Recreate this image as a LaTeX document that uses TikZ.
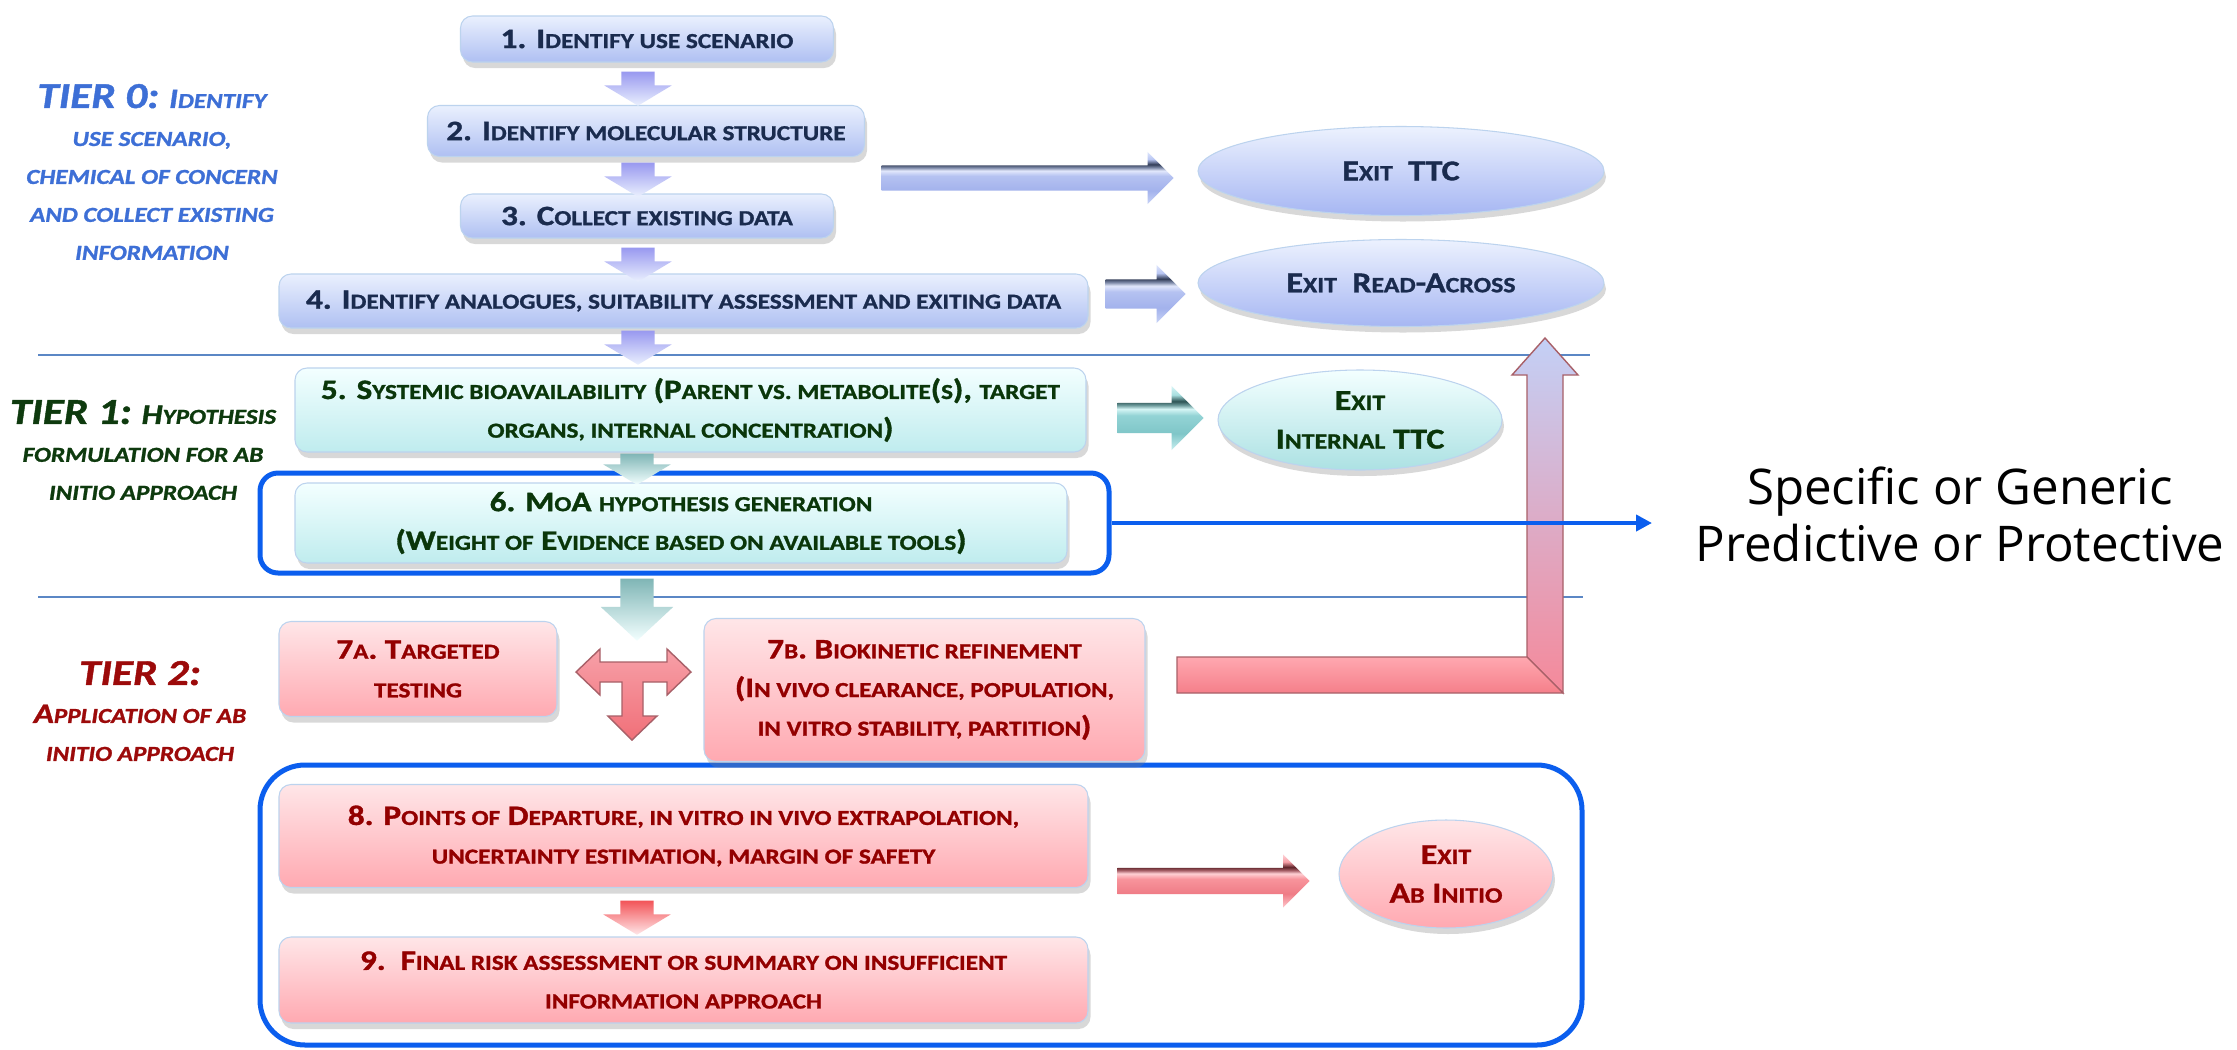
\documentclass[tikz,border=0pt]{standalone}
\usepackage{fontspec}
\setmainfont{Carlito}[FakeStretch=1.18, BoldFeatures={FakeBold=1.2}, BoldItalicFeatures={FakeBold=1.2}]
\newfontfamily\osans{Open Sans}
\usetikzlibrary{shapes.geometric,shapes.arrows,shadows,arrows.meta}
\makeatletter
\newcommand\lc[1]{{\fontsize{\fpeval{\f@size*0.76}}{\baselineskip}\selectfont\MakeUppercase{#1}}}
\makeatother
\definecolor{bluetop}{HTML}{EAF0FE}
\definecolor{bluebot}{HTML}{AFC0F2}
\definecolor{bluetext}{HTML}{1A2B4E}
\definecolor{tealtop}{HTML}{F3FFFF}
\definecolor{tealbot}{HTML}{BFECEE}
\definecolor{tealtext}{HTML}{0A360A}
\definecolor{pinktop}{HTML}{FFE6E8}
\definecolor{pinkbot}{HTML}{FFA9B1}
\definecolor{pinktext}{HTML}{930000}
\definecolor{boxedge}{HTML}{BCD3EE}
\definecolor{outblue}{HTML}{0B5EEE}
\definecolor{divcol}{HTML}{5B87C5}
\definecolor{tierA}{HTML}{3D6FD6}
\definecolor{tierB}{HTML}{0E3A0E}
\definecolor{tierC}{HTML}{9C0A0A}
% arrow shading colours
\definecolor{ab1}{HTML}{C9D4F7}\definecolor{ab2}{HTML}{A3B2EC}\definecolor{ab3}{HTML}{B5C2F1}\definecolor{ab4}{HTML}{E2E8FC}
\definecolor{ab5}{HTML}{7E8AA8}\definecolor{ab6}{HTML}{323D58}\definecolor{ab7}{HTML}{B9C6F3}\definecolor{ab8}{HTML}{E0E7FC}
\definecolor{at1}{HTML}{C9EFF0}\definecolor{at2}{HTML}{7FC6C8}\definecolor{at3}{HTML}{93D3D5}\definecolor{at4}{HTML}{D5F5F5}
\definecolor{at5}{HTML}{6C9A9B}\definecolor{at6}{HTML}{2C5253}\definecolor{at7}{HTML}{A8DFE0}\definecolor{at8}{HTML}{D8F5F6}
\definecolor{ap1}{HTML}{FFC9CE}\definecolor{ap2}{HTML}{EF7C86}\definecolor{ap3}{HTML}{F8949C}\definecolor{ap4}{HTML}{FFD0D4}
\definecolor{ap5}{HTML}{A86068}\definecolor{ap6}{HTML}{5E2429}\definecolor{ap7}{HTML}{F7A0A8}\definecolor{ap8}{HTML}{FFD5D9}
\definecolor{lTop}{HTML}{C3D0F6}\definecolor{lMid}{HTML}{A89CE0}\definecolor{lBot}{HTML}{F5899A}
\definecolor{hTop}{HTML}{FFA8B0}\definecolor{hBot}{HTML}{F57F8A}
\pgfdeclareverticalshading{arrblue}{100bp}{color(0bp)=(ab1); color(25bp)=(ab1); color(38bp)=(ab2); color(52bp)=(ab3); color(57bp)=(ab4); color(60bp)=(ab5); color(63bp)=(ab6); color(68bp)=(ab7); color(75bp)=(ab8); color(100bp)=(ab8)}
\pgfdeclareverticalshading{arrteal}{100bp}{color(0bp)=(at1); color(25bp)=(at1); color(38bp)=(at2); color(52bp)=(at3); color(57bp)=(at4); color(60bp)=(at5); color(63bp)=(at6); color(68bp)=(at7); color(75bp)=(at8); color(100bp)=(at8)}
\pgfdeclareverticalshading{arrpink}{100bp}{color(0bp)=(ap1); color(25bp)=(ap1); color(38bp)=(ap2); color(52bp)=(ap3); color(57bp)=(ap4); color(60bp)=(ap5); color(63bp)=(ap6); color(68bp)=(ap7); color(75bp)=(ap8); color(100bp)=(ap8)}
\tikzset{
  box/.style={rounded corners=1.2mm, draw=boxedge, line width=0.3pt, align=center,
    inner sep=0pt, font=\fontsize{8}{11}\selectfont\bfseries,
    drop shadow={shadow xshift=0.25mm, shadow yshift=-0.6mm, opacity=0.3}},
  bluebox/.style={box, top color=bluetop, bottom color=bluebot, text=bluetext},
  tealbox/.style={box, top color=tealtop, bottom color=tealbot, text=tealtext},
  pinkbox/.style={box, top color=pinktop, bottom color=pinkbot, text=pinktext},
  exitnode/.style={ellipse, draw=boxedge, line width=0.3pt, align=center, inner sep=0pt,
    font=\fontsize{8.2}{11}\selectfont\bfseries,
    drop shadow={shadow xshift=0.2mm, shadow yshift=-0.6mm, opacity=0.3}},
  blueexit/.style={exitnode, top color=bluetop!90!white, bottom color=bluebot!95!blue, text=bluetext},
  tealexit/.style={exitnode, top color=tealtop, bottom color=tealbot!90!teal, text=tealtext},
  pinkexit/.style={exitnode, top color=pinktop, bottom color=pinkbot, text=pinktext},
  outline/.style={draw=outblue, line width=0.5mm, inner sep=0pt},
  divider/.style={draw=divcol, line width=0.22mm},
  tier/.style={align=center, inner sep=0pt, font=\fontsize{8}{10.8}\selectfont\bfseries\itshape},
  barrow/.style={single arrow, draw=none, inner xsep=0pt, minimum width=0pt,
    single arrow head indent=0pt, anchor=tail},
  downarrow/.style={barrow, rotate=-90, minimum height=3.4mm, inner ysep=1.6mm,
    single arrow head extend=1.7mm, single arrow tip angle=118},
  bluedown/.style={downarrow, top color=black!15!blue!40!white, middle color=bluetop!80!bluebot, bottom color=bluetop},
  tealdown/.style={downarrow, top color=black!15!teal!50!white, middle color=tealtop!70!tealbot, bottom color=tealtop},
  pinkdown/.style={downarrow, top color=black!10!red!50!pinkbot, middle color=pinkbot!60!white, bottom color=pinktop},
  blueright/.style={barrow, shading=arrblue},
  tealright/.style={barrow, shading=arrteal},
  pinkright/.style={barrow, shading=arrpink},
}
\newcommand\tierbig[1]{{\fontsize{10.4}{11}\selectfont #1}}
\begin{document}
\begin{tikzpicture}[x=0.1mm,y=-0.1mm]
\useasboundingbox (0,0) rectangle (2237,1049);
\fill[white] (0,0) rectangle (2237,1049);

% dividers
\coordinate (d1a) at (38,355); \coordinate (d1b) at (1590,355);
\coordinate (d2a) at (38,597); \coordinate (d2b) at (1583,597);
\draw[divider] (d1a) -- (d1b);
\draw[divider] (d2a) -- (d2b);

% blue outlines
\node[outline, rounded corners=1.8mm, minimum width=84.9mm, minimum height=10mm] (r6) at (684.5,523) {};
\node[outline, rounded corners=4.5mm, minimum width=132.2mm, minimum height=28mm] (R) at (921,905) {};

% tier labels
\node[tier, text=tierA] (t0) at (152,172) {\tierbig{TIER 0:} I\lc{dentify}\\ \lc{use scenario,}\\ \lc{chemical of concern}\\ \lc{and collect existing}\\ \lc{information}};
\node[tier, text=tierB] (t1) at (143,450) {\tierbig{TIER 1:} H\lc{ypothesis}\\ \lc{formulation for ab}\\ \lc{initio approach}};
\node[tier, text=tierC] (t2) at (140,711) {\tierbig{TIER 2:}\\ A\lc{pplication of ab}\\ \lc{initio approach}};

% boxes
\node[bluebox, minimum width=37.3mm, minimum height=4.6mm] (b1) at (647,39) {1. I\lc{dentify use scenario}};
\node[bluebox, minimum width=43.7mm, minimum height=5.1mm] (b2) at (646,131) {2. I\lc{dentify molecular structure}};
\node[bluebox, minimum width=37.3mm, minimum height=4.4mm] (b3) at (647,216) {3. C\lc{ollect existing data}};
\node[bluebox, minimum width=80.9mm, minimum height=5.4mm] (b4) at (683.5,301) {4. I\lc{dentify analogues, suitability assessment and exiting data}};
\node[tealbox, minimum width=79.1mm, minimum height=8.4mm] (b5) at (690.5,410) {5. S\lc{ystemic bioavailability} (P\lc{arent vs. metabolite}(\lc{s}), \lc{target}\\ \lc{organs, internal concentration})};
\node[tealbox, minimum width=77.2mm, minimum height=8.0mm] (b6) at (681,523) {6. M\lc{o}A \lc{hypothesis generation}\\ (W\lc{eight of} E\lc{vidence based on available tools})};
\node[pinkbox, minimum width=27.8mm, minimum height=9.5mm] (b7a) at (418,669) {7\lc{a}. T\lc{argeted}\\ \lc{testing}};
\node[pinkbox, minimum width=44.1mm, minimum height=14.3mm] (b7b) at (924.5,690) {7\lc{b}. B\lc{iokinetic refinement}\\ (I\lc{n vivo clearance, population,}\\ \lc{in vitro stability, partition})};
\node[pinkbox, minimum width=80.9mm, minimum height=10.3mm] (b8) at (683.5,836) {8. P\lc{oints of} D\lc{eparture, in vitro in vivo extrapolation,}\\ \lc{uncertainty estimation, margin of safety}};
\node[pinkbox, minimum width=80.9mm, minimum height=8.6mm] (b9) at (683.5,980) {9.\ \ F\lc{inal risk assessment or summary on insufficient}\\ \lc{information approach}};

% exits
\node[blueexit, minimum width=40.6mm, minimum height=8.9mm] (eTTC) at (1401,171) {E\lc{xit}\ \ TTC};
\node[blueexit, minimum width=40.6mm, minimum height=8.7mm] (eRA) at (1401,283) {E\lc{xit}\ \ R\lc{ead}-A\lc{cross}};
\node[tealexit, minimum width=28.4mm, minimum height=10mm] (eIT) at (1360,420) {E\lc{xit}\\ I\lc{nternal} TTC};
\node[pinkexit, minimum width=21.4mm, minimum height=10.8mm] (eAI) at (1446,874) {E\lc{xit}\\ A\lc{b} I\lc{nitio}};

% down arrows
\node[bluedown] (a12) at (638,71) {};
\node[bluedown] (a23) at (638,162) {};
\node[bluedown] (a34) at (638,247) {};
\node[bluedown] (a45) at (638,330) {};
\node[tealdown, minimum height=3.1mm] (a56) at (637,453) {};
\node[tealdown, minimum height=6.2mm, single arrow head extend=1.95mm, single arrow tip angle=94] (a67) at (637,578) {};
\node[pinkdown] (a89) at (637,900) {};

% right arrows
\node[blueright, minimum height=29.2mm, inner ysep=1.2mm, single arrow head extend=1.35mm] (aTTC) at (881,178) {};
\node[blueright, minimum height=8.0mm, inner ysep=1.4mm, single arrow head extend=1.45mm] (aRA) at (1105,294) {};
\node[tealright, minimum height=8.6mm, inner ysep=1.45mm, single arrow head extend=1.7mm] (a5) at (1117,418) {};
\node[pinkright, minimum height=19.2mm, inner ysep=1.25mm, single arrow head extend=1.35mm] (a8) at (1117,881) {};

% T arrow
\shade[top color=ap7, bottom color=ap2!90!red, draw=ap5, line width=0.4pt]
  (576,672) -- (600,649) -- (600,662) -- (667,662) -- (667,649) -- (691,672) -- (667,695) -- (667,682)
  -- (643,682) -- (643,716) -- (657,716) -- (632,740) -- (608,716) -- (622,716) -- (622,682)
  -- (600,682) -- (600,695) -- cycle;

% L arrow
\shade[top color=lTop, middle color=lMid, bottom color=lBot, draw=ap5, line width=0.4pt]
  (1527,657) -- (1527,375) -- (1512,375) -- (1545,338) -- (1578,375) -- (1563,375) -- (1563,693) -- cycle;
\shade[top color=hTop, bottom color=hBot, draw=ap5, line width=0.4pt]
  (1177,657) -- (1527,657) -- (1563,693) -- (1177,693) -- cycle;

% connector to the note
\coordinate (sg) at (1652,523);
\draw[outblue, line width=0.4mm, -{Triangle[length=1.6mm,width=1.6mm]}] (r6.east) -- (sg);
\node[font=\osans\fontsize{14}{16.2}\selectfont, align=center, inner sep=0pt] (note) at (1960,514) {Specific or Generic\\Predictive or Protective};
\end{tikzpicture}
\end{document}
